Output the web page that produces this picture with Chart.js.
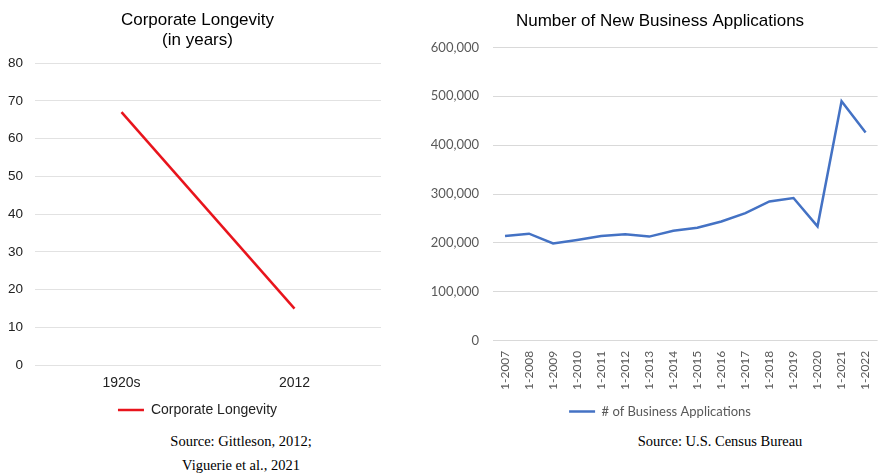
<!DOCTYPE html>
<html>
<head>
<meta charset="utf-8">
<script src="https://cdn.jsdelivr.net/npm/chart.js@4.4.1/dist/chart.umd.min.js"></script>
<style>
  html, body { margin:0; padding:0; background:#fff; width:889px; height:475px; overflow:hidden; }
  .box { position:absolute; top:0; }
  #leftBox { left:0; width:395px; height:427px; }
  #rightBox { left:400px; width:490px; height:428px; }
  .src { position:absolute; font-family:"Liberation Serif","Times New Roman",serif; font-size:14.5px; color:#000; text-align:center; line-height:24.3px; width:300px; }
</style>
</head>
<body>
<div class="box" id="leftBox"><canvas id="chartLongevity"></canvas></div>
<div class="box" id="rightBox"><canvas id="chartApps"></canvas></div>
<div class="src" style="left:91px; top:429px;">Source: Gittleson, 2012;<br>Viguerie et al., 2021</div>
<div class="src" style="left:570px; top:429px;">Source: U.S. Census Bureau</div>

<script>
// --- data ---
const longevityLabels = ['1920s', '2012'];
const longevityValues = [67, 15];
const longevityTicks = [0, 80, 10];   // min, max, step

const appLabels = ['1-2007','1-2008','1-2009','1-2010','1-2011','1-2012','1-2013','1-2014',
                   '1-2015','1-2016','1-2017','1-2018','1-2019','1-2020','1-2021','1-2022'];
const appValues = [214000, 219000, 199000, 206000, 214000, 218000, 213000, 225000,
                   231000, 244000, 261000, 285000, 292000, 234000, 490000, 426000];
const appTicks = [0, 600000, 100000];

const SANS = '"Liberation Sans", Arial, sans-serif';
const LABEL = 'Lato, "Open Sans", sans-serif';

Chart.defaults.animation = false;
Chart.defaults.plugins.tooltip.enabled = false;

// left: corporate longevity
new Chart(document.getElementById('chartLongevity'), {
  type: 'line',
  data: {
    labels: longevityLabels,
    datasets: [{ label: 'Corporate Longevity', data: longevityValues, borderColor: '#E8141C',
      backgroundColor: '#E8141C', borderWidth: 2.5, pointRadius: 0, tension: 0 }]
  },
  options: {
    responsive: true, maintainAspectRatio: false,
    layout: { padding: 0 },
    plugins: {
      title: { display: true, text: ['Corporate Longevity', '(in years)'], color: '#000',
        font: { family: SANS, size: 17, weight: 'normal', lineHeight: 1.15 }, padding: { top: 11, bottom: 13 } },
      legend: { position: 'bottom',
        labels: { usePointStyle: true, pointStyle: 'line', pointStyleWidth: 26, color: '#222',
          font: { family: SANS, size: 14 }, padding: 1 } }
    },
    scales: {
      x: { offset: true, grid: { display: false, drawTicks: false }, border: { display: false },
        ticks: { color: '#222', font: { family: SANS, size: 14 }, padding: 10, maxRotation: 0 } },
      y: { min: longevityTicks[0], max: longevityTicks[1],
        ticks: { stepSize: longevityTicks[2], color: '#222', font: { family: SANS, size: 13.5 }, padding: 12 },
        grid: { color: '#e2e2e2', drawTicks: false }, border: { display: false },
        afterFit(s) { s.width = 35; } },
      // empty spacer on the right so title and legend sit where the reference has them
      yGap: { position: 'right', ticks: { display: false }, grid: { display: false, drawTicks: false },
        border: { display: false }, afterFit(s) { s.width = 14; } }
    }
  }
});

// right: new business applications
new Chart(document.getElementById('chartApps'), {
  type: 'line',
  data: {
    labels: appLabels,
    datasets: [{ label: '# of Business Applications', data: appValues, borderColor: '#4472C4',
      backgroundColor: '#4472C4', borderWidth: 2.5, pointRadius: 0, tension: 0 }]
  },
  options: {
    responsive: true, maintainAspectRatio: false,
    layout: { padding: { left: 30, right: 0, top: 0, bottom: 0 } },
    plugins: {
      title: { display: true, text: 'Number of New Business Applications', color: '#000',
        font: { family: SANS, size: 17, weight: 'normal', lineHeight: 1.2 }, padding: { top: 11, bottom: 16 } },
      legend: { position: 'bottom',
        labels: { usePointStyle: true, pointStyle: 'line', pointStyleWidth: 26, color: '#595959',
          font: { family: LABEL, size: 13 }, padding: 5 } }
    },
    scales: {
      x: { offset: true, grid: { display: false, drawTicks: false }, border: { display: false },
        ticks: { color: '#595959', font: { family: LABEL, size: 12 }, padding: 10,
          minRotation: 90, maxRotation: 90, autoSkip: false } },
      y: { min: appTicks[0], max: appTicks[1],
        ticks: { stepSize: appTicks[2], color: '#595959', font: { family: LABEL, size: 13 }, padding: 14,
          callback: v => v.toLocaleString('en-US') },
        grid: { color: '#d9d9d9', drawTicks: false }, border: { display: false },
        afterFit(s) { s.width = 63; } }
    }
  }
});
</script>
</body>
</html>
